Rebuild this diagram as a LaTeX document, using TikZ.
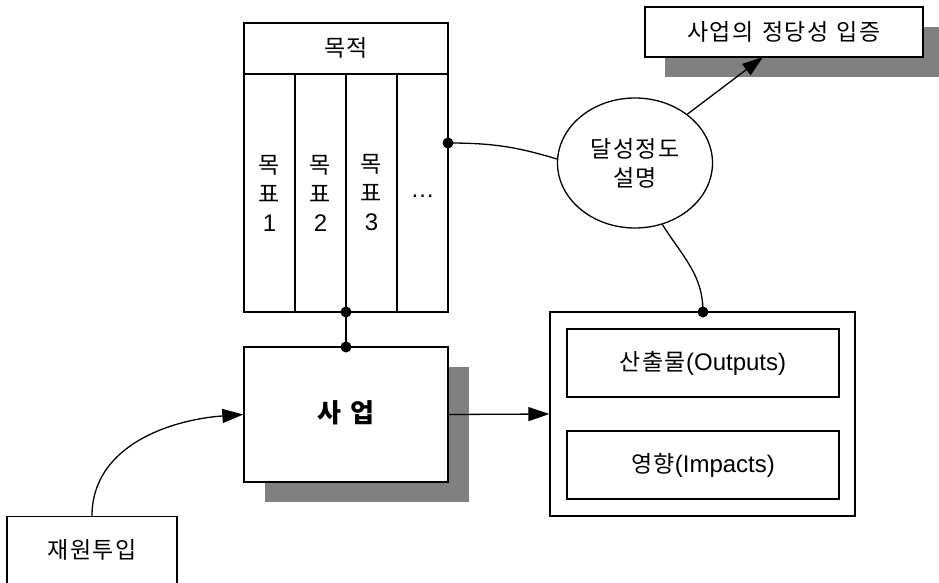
\documentclass[tikz,border=0pt]{standalone}
\usepackage{fontspec}
\setmainfont{Noto Sans CJK KR}[LetterSpace=6, WordSpace=1.3]
\newfontfamily\lat{Liberation Sans}
\newcommand\Lt[1]{{\fontsize{24}{29}\lat #1}}
\usetikzlibrary{arrows.meta,shapes.geometric}
\definecolor{shade}{HTML}{808080}
\tikzset{
  box/.style={draw, line width=1.3pt, fill=white, inner sep=0pt},
  shadowbox/.style={fill=shade, draw=none, inner sep=0pt},
  conn/.style={line width=1.3pt},
  tip/.style={-{Triangle[length=21pt,width=14pt]}},
  dotc/.style={circle, fill=black, inner sep=0pt, minimum size=11pt},
  lbl/.style={font=\fontsize{23}{29}\selectfont, align=center, inner sep=0pt},
}
\begin{document}
\begin{tikzpicture}[x=1pt,y=-1pt]
\useasboundingbox (0,0) rectangle (939,583);
% goals table
\node[box, minimum width=204pt, minimum height=289pt] (goal) at (346,167.5) {};
\draw[conn] (244,74) -- (448,74);
\draw[conn] (295,74) -- (295,312);
\draw[conn] (346,74) -- (346,312);
\draw[conn] (397,74) -- (397,312);
\node[lbl] (goalt) at (346,48) {목적};
\node[lbl] (g1) at (269.5,193) {목\\표\\\Lt{1}};
\node[lbl] (g2) at (320.5,193) {목\\표\\\Lt{2}};
\node[lbl] (g3) at (371.5,193) {목\\표\\\Lt{3}};
\node[lbl] (g4) at (422.5,196) {\Lt{…}};
% project box with shadow
\node[shadowbox, minimum width=204pt, minimum height=135pt] (bizsh) at (367,434.5) {};
\node[box, minimum width=204pt, minimum height=135pt] (biz) at (346,414.5) {};
\node[lbl, font=\fontsize{26}{30}\bfseries] (bizt) at (346,413) {사 업};
% justification box with shadow
\node[shadowbox, minimum width=278pt, minimum height=50pt] (justsh) at (804,52) {};
\node[box, minimum width=278pt, minimum height=50pt, lbl, draw, fill=white] (just) at (784,32) {사업의 정당성 입증};
% ellipse
\node[draw, ellipse, line width=1.3pt, minimum width=155pt, minimum height=130pt, lbl, inner sep=0pt] (ell) at (635,163) {달성정도\\설명};
% outputs
\node[box, minimum width=305pt, minimum height=204pt] (out) at (702.5,414) {};
\node[box, minimum width=272pt, minimum height=68pt, lbl] (o1) at (703,363) {산출물\Lt{(Outputs)}};
\node[box, minimum width=272pt, minimum height=68pt, lbl] (o2) at (703,465) {영향\Lt{(Impacts)}};
% resources
\node[box, minimum width=170pt, minimum height=80pt, anchor=north] (src) at (92,516) {};
\node[lbl] (srct) at (92,550) {재원투입};
% connector points
\coordinate (gdot) at (448,143);
\coordinate (gbot) at (346,312);
\coordinate (btop) at (346,347);
\coordinate (odot) at (703,312);
\coordinate (jt) at (763,57);
% connectors
\draw[conn] (gdot) to[out=0,in=163] (ell.west |- 0,159);
\draw[line width=2.5pt] (gbot) -- (btop);
\draw[conn,tip] (biz.east) -- (out.west);
\draw[conn,tip] (ell.43) -- (jt);
\draw[conn] (ell.-66) to[out=-58,in=90] (odot);
\draw[conn,tip] (src.north) to[out=90,in=184] (biz.west);
\node[dotc] at (gdot) {};
\node[dotc] at (gbot) {};
\node[dotc] at (btop) {};
\node[dotc] at (odot) {};
\end{tikzpicture}
\end{document}
